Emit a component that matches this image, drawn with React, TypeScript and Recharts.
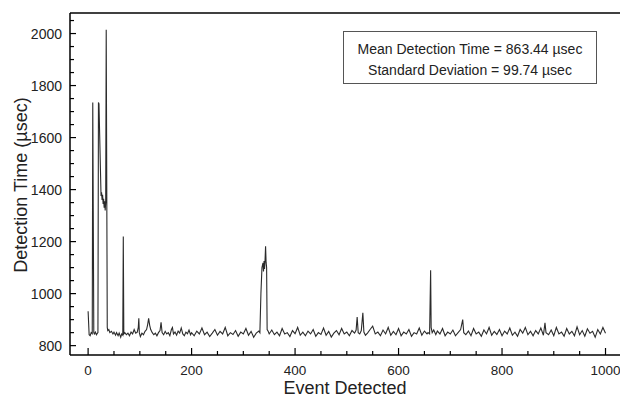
import { LineChart, Line, XAxis, YAxis, ReferenceLine } from "recharts";

// event index (x) and detection time in µsec (y)
const events = [
  0, 2, 4, 6, 8, 9, 11, 12, 14, 16, 18, 19, 20, 21, 25,
  26, 27, 28, 29, 30, 31, 32, 33, 34, 35, 37, 38, 40,
  42, 45, 48, 50, 53, 55, 58, 60, 63, 65, 67, 68, 69, 71, 74, 77, 80,
  83, 86, 89, 92, 95, 97, 98, 99, 101, 104, 107, 110, 113, 115, 117, 119, 121,
  124, 127, 130, 133, 136, 139, 141, 143, 146, 149, 152, 155, 158, 161, 163, 165,
  168, 171, 174, 177, 180, 183, 186, 189, 192, 195, 198,
  200, 205, 210, 215, 220, 225, 230, 235, 240, 245, 250, 255, 260, 265,
  270, 275, 280, 285, 290, 295, 300, 305, 310, 315, 320, 325, 330,
  332, 334, 336, 338, 339, 340, 341, 342, 343, 344, 345, 346, 348,
  350, 355, 360, 365, 370, 375, 380, 385, 390, 395, 400, 405, 410, 415,
  420, 425, 430, 435, 440, 445, 450, 455, 460, 465, 470, 475, 480, 485,
  490, 495, 500, 505, 510, 515, 518, 520, 522, 525, 528, 531, 533, 536,
  540, 545, 550, 555, 560, 565, 570, 575, 580, 585, 590, 595, 600, 605,
  610, 615, 620, 625, 630, 635, 640, 645, 650, 655, 657, 660, 662, 663,
  665, 668, 672, 675, 680, 685, 690, 695, 700, 705, 710, 715, 720, 724, 726,
  730, 735, 740, 745, 750, 755, 760, 765, 770, 775, 780, 785, 790, 795,
  800, 805, 810, 815, 820, 825, 830, 835, 840, 845, 850, 855, 860, 865,
  870, 875, 880, 883, 885, 890, 895, 900, 905, 910, 915, 920, 925,
  930, 935, 940, 945, 950, 955, 960, 965, 970, 975, 980, 985, 990, 995, 1000,
];

const detectionTimes = [
  932, 842, 838, 850, 846, 1735, 850, 845, 852, 842, 848, 850, 1735, 1730, 1375,
  1390, 1360, 1380, 1345, 1365, 1330, 1355, 1320, 1350, 2015, 870, 858, 862,
  850, 855, 845, 852, 840, 850, 838, 848, 832, 845, 840, 1220, 845, 850, 842, 848, 838,
  852, 845, 862, 848, 852, 870, 905, 850, 835, 848, 842, 855, 862, 880, 905, 878, 862,
  850, 842, 848, 838, 850, 858, 890, 850, 842, 855, 845, 850, 838, 862, 870, 845,
  852, 840, 856, 848, 868, 845, 838, 852, 846, 860, 842,
  850, 838, 856, 845, 868, 842, 852, 835, 848, 862, 840, 855, 845, 870,
  838, 850, 843, 858, 836, 852, 845, 866, 840, 855, 832, 848, 856,
  850, 1000, 1100, 1118, 1085, 1125, 1095, 1130, 1182, 1120, 1100, 862, 855,
  845, 860, 842, 852, 838, 866, 845, 850, 835, 858, 846, 870, 840, 852,
  838, 856, 845, 862, 836, 850, 843, 868, 840, 855, 833, 848, 858, 842,
  866, 845, 852, 838, 858, 848, 860, 910, 850, 845, 858, 926, 852, 840,
  848, 862, 875, 845, 852, 838, 860, 845, 870, 840, 855, 842, 866, 838,
  852, 845, 862, 836, 850, 845, 868, 840, 856, 845, 850, 845, 1090, 870,
  850, 860, 842, 856, 845, 866, 838, 852, 845, 860, 838, 850, 862, 900, 850,
  842, 856, 838, 866, 845, 852, 836, 860, 845, 870, 840, 855, 843, 862,
  838, 856, 845, 868, 840, 852, 836, 862, 848, 870, 842, 855, 838, 858,
  845, 868, 840, 888, 850, 842, 860, 838, 870, 845, 852, 836, 866,
  845, 855, 838, 872, 842, 858, 836, 865, 848, 855, 832, 862, 845, 870, 848,
];

const xTicks = [
  0, 50, 100, 150, 200, 250, 300, 350, 400, 450, 500,
  550, 600, 650, 700, 750, 800, 850, 900, 950, 1000,
];
const yTicks = [
  800, 850, 900, 950, 1000, 1050, 1100, 1150, 1200, 1250, 1300, 1350,
  1400, 1450, 1500, 1550, 1600, 1650, 1700, 1750, 1800, 1850, 1900, 1950, 2000, 2050,
];

const data = events.map((e, i) => ({ event: e, time: detectionTimes[i] }));

const FONT = '"Liberation Sans", Arial, Helvetica, sans-serif';
const X_MIN = -35;
const X_MAX = 1028;
const Y_MIN = 764;
const Y_MAX = 2079;
const TICK_MARGIN = 8;

function YTick(props: any) {
  const { x, y, payload } = props;
  const major = payload.value % 200 === 0;
  const axisX = x + TICK_MARGIN;
  return (
    <g>
      <line x1={axisX} x2={axisX + (major ? 6 : 4)} y1={y} y2={y} stroke="#000" strokeWidth={1.2} />
      {major && (
        <text x={x} y={y} dy={5} textAnchor="end" fontSize={14} fontFamily={FONT} fill="#222">
          {payload.value}
        </text>
      )}
    </g>
  );
}

function XTick(props: any) {
  const { x, y, payload } = props;
  const major = payload.value % 200 === 0;
  const axisY = y - TICK_MARGIN;
  return (
    <g>
      <line x1={x} x2={x} y1={axisY} y2={axisY - (major ? 7 : 4)} stroke="#000" strokeWidth={1.2} />
      {major && (
        <text x={x} y={y} dy={12} textAnchor="middle" fontSize={13.5} fontFamily={FONT} fill="#222">
          {payload.value}
        </text>
      )}
    </g>
  );
}

export default function App() {
  return (
    <div style={{ position: "absolute", left: 0, top: 0, width: 620, height: 398, background: "#fff", fontFamily: FONT }}>
      <LineChart width={620} height={398} data={data} margin={{ top: 13, right: 0, left: 0, bottom: 0 }}>
        <XAxis
          dataKey="event"
          type="number"
          domain={[X_MIN, X_MAX]}
          ticks={xTicks}
          interval={0}
          height={43}
          tickLine={false}
          tickSize={0}
          tickMargin={TICK_MARGIN}
          tick={<XTick />}
          axisLine={{ stroke: "#000", strokeWidth: 1.5 }}
          allowDataOverflow
        />
        <YAxis
          type="number"
          domain={[Y_MIN, Y_MAX]}
          ticks={yTicks}
          interval={0}
          width={70}
          tickLine={false}
          tickSize={0}
          tickMargin={TICK_MARGIN}
          tick={<YTick />}
          axisLine={{ stroke: "#000", strokeWidth: 1.5 }}
          allowDataOverflow
        />
        <ReferenceLine y={Y_MAX} stroke="#000" strokeWidth={1.5} />
        <Line
          type="linear"
          dataKey="time"
          stroke="#2b2b2b"
          strokeWidth={1.1}
          dot={false}
          isAnimationActive={false}
        />
      </LineChart>

      <div
        style={{
          position: "absolute",
          left: -79,
          top: 175,
          width: 200,
          lineHeight: "20px",
          fontSize: 18,
          textAlign: "center",
          color: "#222",
          transform: "rotate(-90deg)",
          whiteSpace: "nowrap",
        }}
      >
        Detection Time (µsec)
      </div>
      <div
        style={{
          position: "absolute",
          left: 70,
          top: 378,
          width: 550,
          lineHeight: "20px",
          fontSize: 18,
          textAlign: "center",
          color: "#222",
        }}
      >
        Event Detected
      </div>
      <div
        style={{
          position: "absolute",
          left: 343,
          top: 31,
          width: 254,
          height: 53,
          boxSizing: "border-box",
          border: "1px solid #555",
          paddingTop: 7,
          fontSize: 14,
          lineHeight: "21px",
          textAlign: "center",
          color: "#222",
        }}
      >
        <div>Mean Detection Time = 863.44 µsec</div>
        <div>Standard Deviation = 99.74 µsec</div>
      </div>
    </div>
  );
}
